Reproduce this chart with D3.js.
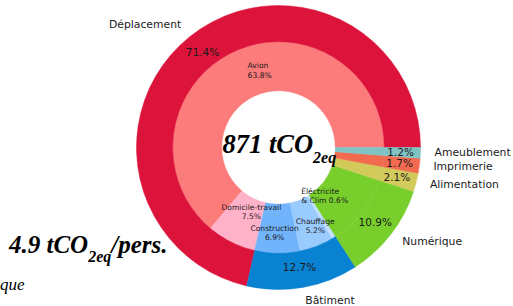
<!DOCTYPE html>
<html>
<head>
<meta charset="utf-8">
<script src="https://cdn.jsdelivr.net/npm/d3@7"></script>
<style>
  html, body { margin: 0; padding: 0; background: #fff; }
  svg { display: block; }
  .lbl { font-family: "DejaVu Sans", sans-serif; fill: #1a1a1a; }
  .big { font-family: "Liberation Serif", serif; font-style: italic; font-weight: bold; fill: #000; }
</style>
</head>
<body>
<svg id="chart" width="513" height="306"></svg>
<script>
// outer ring: categories
const outerNames = ['Déplacement', 'Bâtiment', 'Numérique', 'Alimentation', 'Imprimerie', 'Ameublement'];
const outerValues = [71.4, 12.7, 10.9, 2.1, 1.7, 1.2];
const outerColors = ['#dc143c', '#0a82d2', '#78cf2c', '#d2cb5c', '#f26a50', '#7fc3c3'];

// inner ring: sub categories
const innerNames = ['Avion', 'Domicile-travail', 'Construction', 'Chauffage', 'Éléctricite\n& Clim', 'Numérique', 'Alimentation', 'Imprimerie', 'Ameublement'];
const innerValues = [63.8, 7.5, 6.9, 5.2, 0.6, 10.9, 2.1, 1.7, 1.2];
const innerColors = ['#fc7b7b', '#ffb2c9', '#72b4fc', '#9acbff', '#c2e0ff', '#78cf2c', '#d2cb5c', '#f26a50', '#7fc3c3'];
const innerLabelled = 5;

const totalTonnes = '871';
const perPerson = '4.9';

const svg = d3.select('#chart');
const cx = 278.5, cy = 147.5, R = 142;
const rMid = R * 0.745, rHole = R * 0.4;

// matplotlib style: start at 3 o'clock, go counter clockwise
const pie = d3.pie().sort(null).value(d => d.v)
  .startAngle(Math.PI / 2).endAngle(Math.PI / 2 - 2 * Math.PI);

const outerData = pie(outerNames.map((n, i) => ({ n, v: outerValues[i], c: outerColors[i] })));
const innerData = pie(innerNames.map((n, i) => ({ n, v: innerValues[i], c: innerColors[i] })));

const outerArc = d3.arc().innerRadius(rMid).outerRadius(R);
const innerArc = d3.arc().innerRadius(rHole).outerRadius(rMid);

const g = svg.append('g').attr('transform', `translate(${cx},${cy})`);

g.selectAll('path.inner').data(innerData).enter().append('path')
  .attr('class', 'inner')
  .attr('d', innerArc)
  .attr('fill', d => d.data.c)
  .attr('stroke', d => d.data.c)
  .attr('stroke-width', 0.5);

g.selectAll('path.outer').data(outerData).enter().append('path')
  .attr('class', 'outer')
  .attr('d', outerArc)
  .attr('fill', d => d.data.c)
  .attr('stroke', d => d.data.c)
  .attr('stroke-width', 0.5);

const mid = d => (d.startAngle + d.endAngle) / 2;
const polar = (a, r) => [r * Math.sin(a), -r * Math.cos(a)];

// category names outside
g.selectAll('text.cat').data(outerData).enter().append('text')
  .attr('class', 'lbl cat')
  .attr('x', d => polar(mid(d), R * 1.1)[0])
  .attr('y', d => polar(mid(d), R * 1.1)[1])
  .attr('dy', '0.22em')
  .attr('text-anchor', d => Math.sin(mid(d)) > 0 ? 'start' : 'end')
  .style('font-size', '10.8px')
  .text(d => d.data.n);

// percentages in the outer ring
g.selectAll('text.pct').data(outerData).enter().append('text')
  .attr('class', 'lbl pct')
  .attr('x', d => polar(mid(d), R * 0.86)[0])
  .attr('y', d => polar(mid(d), R * 0.86)[1])
  .attr('dy', '0.35em')
  .attr('text-anchor', 'middle')
  .style('font-size', '10.5px')
  .text(d => d.data.v.toFixed(1) + '%');

// inner labels, nudged a bit like the original
const nudge = {
  'Avion': [5, 0, 'start'],
  'Domicile-travail': [11, -12, 'middle'],
  'Construction': [-3, 0, 'middle'],
  'Chauffage': [6, -1, 'middle'],
  'Éléctricite\n& Clim': [-22, -24, 'start']
};
const innerLab = g.selectAll('text.sub').data(innerData.slice(0, innerLabelled)).enter().append('text')
  .attr('class', 'lbl sub')
  .style('font-size', '7.6px')
  .attr('text-anchor', d => nudge[d.data.n][2])
  .attr('transform', d => {
    const p = polar(mid(d), R * 0.6);
    const k = nudge[d.data.n];
    return `translate(${p[0] + k[0]},${p[1] + k[1]})`;
  });

innerLab.each(function(d) {
  const parts = d.data.n.split('\n');
  const pct = d.data.v.toFixed(1) + '%';
  const lines = parts.length > 1 ? [parts[0], parts[1] + ' ' + pct] : [parts[0], pct];
  d3.select(this).selectAll('tspan').data(lines).enter().append('tspan')
    .attr('x', 0)
    .attr('y', (l, i) => (i - 0.5) * 9.5)
    .attr('dy', '0.35em')
    .text(l => l);
});

// centre total
const centre = svg.append('text').attr('class', 'big')
  .attr('x', 222.5).attr('y', 153)
  .style('font-size', '26.5px');
centre.append('tspan').text(totalTonnes + ' tCO');
centre.append('tspan').attr('dy', 9.5).style('font-size', '16px').text('2eq');

// per person
const pers = svg.append('text').attr('class', 'big')
  .attr('x', 9).attr('y', 253)
  .style('font-size', '25px');
pers.append('tspan').text(perPerson + ' tCO');
pers.append('tspan').attr('dy', 9).style('font-size', '16px').text('2eq');
pers.append('tspan').attr('dy', -9).text('/pers.');

svg.append('text')
  .attr('x', 0).attr('y', 290)
  .style('font-family', '"Liberation Serif", serif')
  .style('font-style', 'italic')
  .style('font-size', '17px')
  .text('que');
</script>
</body>
</html>
